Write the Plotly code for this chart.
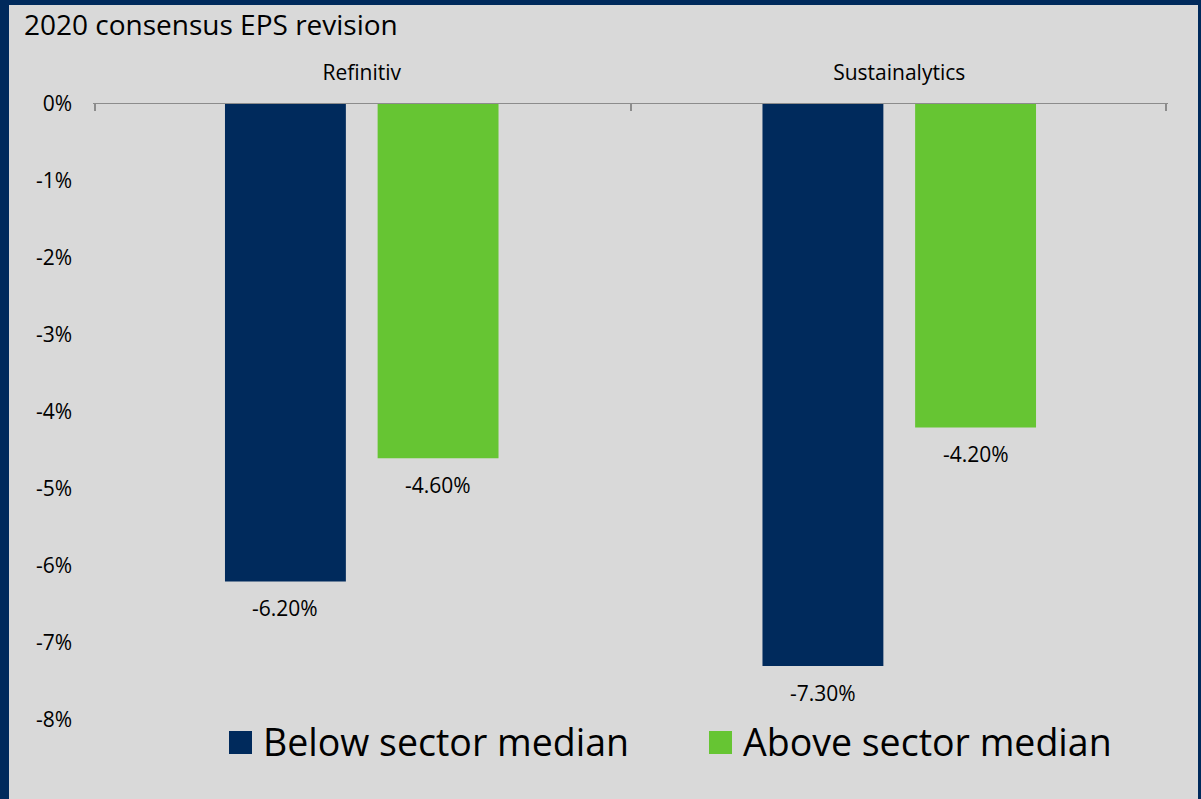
import plotly.graph_objects as go

categories = ["Refinitiv", "Sustainalytics"]
below_median = [-6.2, -7.3]
above_median = [-4.6, -4.2]
series_names = ["Below sector median", "Above sector median"]
y_ticks = [0, -1, -2, -3, -4, -5, -6, -7, -8]
y_tick_labels = ["0%", "-1%", "-2%", "-3%", "-4%", "-5%", "-6%", "-7%", "-8%"]

NAVY = "#002A5C"
GREEN = "#66C533"
BG = "#D9D9D9"
FONT = "Open Sans"
AXIS_GREY = "#8C8C8C"

BARGAP = 0.432
BARGROUPGAP = 0.208

n = len(categories)
boundary_vals = [i - 0.5 for i in range(n + 1)]

fig = go.Figure()
for name, vals, col in [(series_names[0], below_median, NAVY), (series_names[1], above_median, GREEN)]:
    fig.add_trace(go.Bar(x=categories, y=vals, name=name, marker=dict(color=col, line=dict(width=0)),
                         showlegend=False))

# invisible helper so the boundary-tick axis is drawn
fig.add_trace(go.Scatter(x=[boundary_vals[0], boundary_vals[-1]], y=[0, 0], xaxis="x2", yaxis="y",
                         mode="markers", marker=dict(opacity=0, size=1), hoverinfo="skip", showlegend=False))

# data labels under bar ends (slot offsets derived from bar gaps)
slot = (1 - BARGAP) / 2
annotations = []
for si, vals in enumerate([below_median, above_median]):
    off = (si - 0.5) * slot
    for ci, v in enumerate(vals):
        annotations.append(dict(x=ci + off, y=v, xref="x", yref="y", text=f"{v:.2f}%",
                                showarrow=False, yshift=-27, xanchor="center", yanchor="middle",
                                font=dict(family=FONT, size=21, color="#000000")))

L, R, T, B = 93, 33, 104, 79
W, H = 1201, 799
pw, ph = W - L - R, H - T - B

def px_x(p):
    return (p - L) / pw

def px_y(p):
    return (H - B - p) / ph

# title
annotations.append(dict(x=px_x(22), y=px_y(24), xref="paper", yref="paper", text="2020 consensus EPS revision",
                        showarrow=False, xanchor="left", yanchor="middle",
                        font=dict(family=FONT, size=28, color="#000000")))

# custom legend
legend_items = [(series_names[0], NAVY, 229), (series_names[1], GREEN, 709)]
shapes = [dict(type="rect", xref="paper", yref="paper", x0=px_x(9), x1=px_x(1198), y0=px_y(805), y1=px_y(5),
               fillcolor=BG, line=dict(width=0), layer="below")]
for name, col, x0 in legend_items:
    shapes.append(dict(type="rect", xref="paper", yref="paper", x0=px_x(x0), x1=px_x(x0 + 23),
                       y0=px_y(754), y1=px_y(731), fillcolor=col, line=dict(width=0)))
    annotations.append(dict(x=px_x(x0 + 32), y=px_y(741), xref="paper", yref="paper", text=name,
                            showarrow=False, xanchor="left", yanchor="middle",
                            font=dict(family=FONT, size=37.5, color="#000000")))

fig.update_layout(
    width=W, height=H,
    margin=dict(l=L, r=R, t=T, b=B, pad=0),
    paper_bgcolor=NAVY, plot_bgcolor="rgba(0,0,0,0)",
    barmode="group", bargap=BARGAP, bargroupgap=BARGROUPGAP,
    font=dict(family=FONT, color="#000000"),
    shapes=shapes, annotations=annotations,
    xaxis=dict(type="category", side="top", showline=True, linecolor=AXIS_GREY, linewidth=1,
               range=[-0.5, n - 0.5], ticks="",
               tickfont=dict(family=FONT, size=21, color="#000000"), ticklabelstandoff=15,
               showgrid=False, zeroline=False),
    xaxis2=dict(overlaying="x", side="top", type="linear", range=[-0.503, n - 0.497], anchor="y",
                tickvals=boundary_vals, ticks="inside", ticklen=7, tickwidth=1.5, tickcolor=AXIS_GREY,
                showticklabels=False, showgrid=False, zeroline=False, showline=False),
    yaxis=dict(range=[-8, 0], tickvals=y_ticks, ticktext=y_tick_labels, showgrid=False, zeroline=False,
               showline=False, ticks="", tickfont=dict(family=FONT, size=21, color="#000000"),
               ticklabelstandoff=20),
)

fig.write_html("out.html")
